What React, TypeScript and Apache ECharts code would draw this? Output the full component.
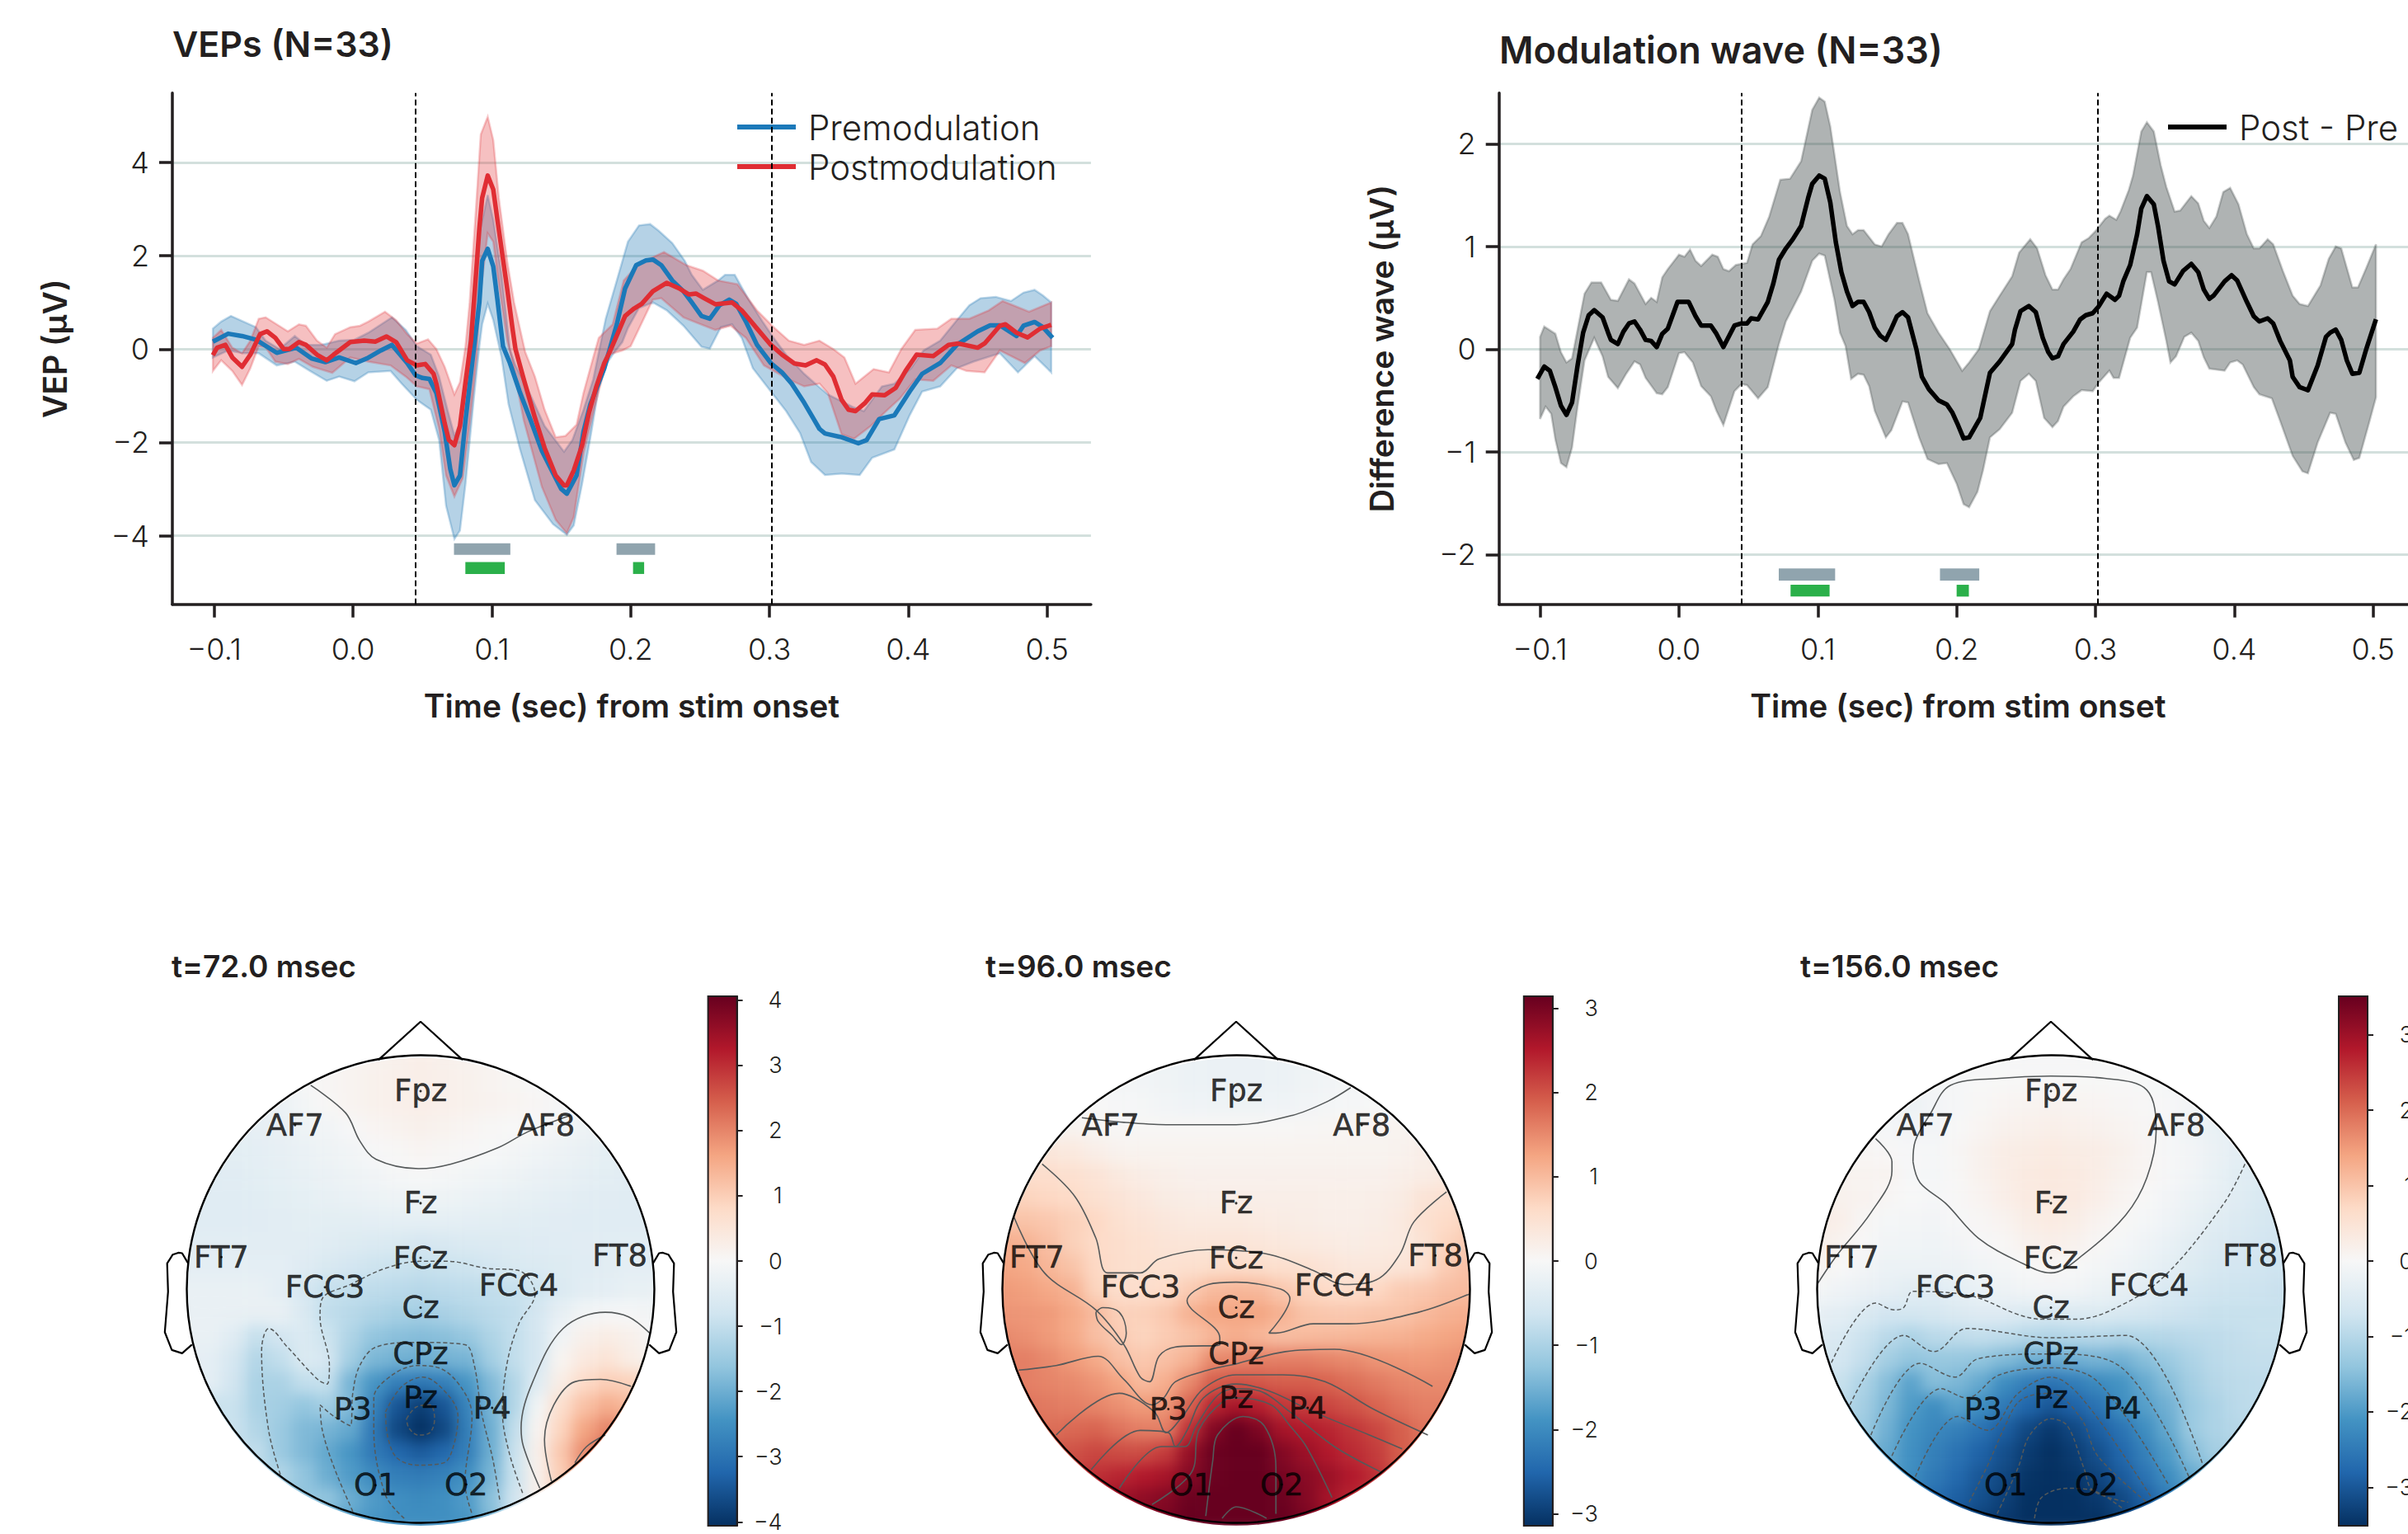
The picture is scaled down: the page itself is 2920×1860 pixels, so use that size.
import React, { useEffect, useRef } from "react";
import * as echarts from "echarts";

type P = [number, number];

const FONT = "Inter, 'Open Sans', sans-serif";
const INK = "#231f20";

// ---------- VEP panel ----------
const preMean: P[] = [[-.101,.16],[-.09,.33],[-.08,.28],[-.07,.2],[-.055,-.08],[-.05,-.04],[-.041,.03],[-.03,-.2],[-.02,-.28],[-.01,-.18],[.002,-.3],[.01,-.2],[.02,-.03],[.028,.09],[.039,-.3],[.045,-.56],[.05,-.62],[.055,-.64],[.06,-.94],[.066,-1.77],[.07,-2.57],[.073,-2.92],[.077,-2.71],[.081,-1.53],[.087,0],[.091,1],[.093,1.89],[.097,2.15],[.101,1.77],[.104,1.06],[.108,.06],[.113,-.3],[.12,-.91],[.128,-1.53],[.136,-2.18],[.144,-2.65],[.15,-3],[.154,-3.1],[.161,-2.71],[.166,-1.77],[.171,-1.18],[.181,-.41],[.19,.53],[.196,1.3],[.204,1.8],[.211,1.9],[.216,1.92],[.222,1.8],[.23,1.47],[.238,1.24],[.244,1],[.251,.71],[.257,.65],[.264,.94],[.271,1.06],[.276,.97],[.283,.59],[.291,.09],[.301,-.3],[.309,-.5],[.316,-.74],[.325,-1.15],[.336,-1.71],[.34,-1.81],[.352,-1.89],[.364,-2.02],[.37,-1.95],[.379,-1.5],[.39,-1.42],[.401,-.91],[.41,-.53],[.423,-.3],[.435,.09],[.45,.38],[.459,.51],[.466,.51],[.478,.28],[.483,.5],[.491,.58],[.497,.47],[.504,.24]];
const preUpper: P[] = [[-.101,.44],[-.095,.59],[-.088,.71],[-.079,.59],[-.07,.47],[-.063,.18],[-.053,0],[-.042,.28],[-.034,.09],[-.023,.09],[-.01,.18],[.001,.2],[.011,.35],[.028,.68],[.038,.41],[.046,.06],[.056,-.12],[.062,-.59],[.068,-1.3],[.073,-1.85],[.077,-1.6],[.081,-.9],[.083,0],[.087,1.3],[.091,2.48],[.097,3.3],[.101,2.77],[.107,1.59],[.113,0],[.117,-.35],[.128,-1],[.138,-1.65],[.152,-2.2],[.158,-1.95],[.166,-1.3],[.173,-.65],[.182,.65],[.19,1.47],[.198,2.3],[.206,2.65],[.214,2.68],[.22,2.54],[.23,2.27],[.239,1.89],[.244,1.59],[.252,1.27],[.263,1.47],[.268,1.59],[.275,1.59],[.285,1.06],[.295,.59],[.303,.24],[.312,-.12],[.325,-.53],[.333,-.74],[.342,-.97],[.36,-1.24],[.368,-1.33],[.381,-.8],[.39,-.74],[.402,-.41],[.411,-.03],[.423,.18],[.435,.62],[.444,.94],[.452,1.09],[.463,1.12],[.474,1.03],[.483,1.21],[.491,1.27],[.497,1.15],[.503,1]];
const preLower: P[] = [[-.101,-.18],[-.09,-.03],[-.079,-.09],[-.068,-.09],[-.055,-.35],[-.042,-.27],[-.031,-.47],[-.019,-.68],[-.01,-.59],[.001,-.69],[.011,-.5],[.027,-.47],[.035,-.74],[.046,-1.09],[.056,-1.3],[.062,-1.95],[.067,-3.36],[.073,-4.07],[.077,-3.89],[.081,-2.89],[.087,-1.06],[.091,.06],[.093,.53],[.097,.97],[.101,.62],[.107,-.18],[.112,-1.18],[.12,-2.12],[.131,-3.24],[.144,-3.75],[.154,-3.98],[.159,-3.78],[.165,-2.89],[.171,-1.89],[.177,-.83],[.183,-.3],[.187,-.12],[.194,.15],[.198,.45],[.206,.88],[.216,1],[.226,.83],[.238,.5],[.251,.05],[.257,.01],[.265,.47],[.273,.53],[.28,.24],[.288,-.41],[.301,-.91],[.312,-1.33],[.322,-1.8],[.33,-2.42],[.34,-2.7],[.352,-2.67],[.365,-2.7],[.374,-2.33],[.39,-2.15],[.401,-1.42],[.41,-.91],[.423,-.8],[.435,-.41],[.447,-.27],[.466,-.09],[.479,-.5],[.491,-.15],[.503,-.5]];
const postMean: P[] = [[-.101,-.13],[-.098,.03],[-.092,.09],[-.087,-.18],[-.08,-.38],[-.074,-.12],[-.067,.32],[-.062,.38],[-.056,.24],[-.05,0],[-.046,0],[-.039,.15],[-.034,.09],[-.026,-.12],[-.019,-.24],[-.014,-.12],[-.002,.15],[.008,.18],[.016,.16],[.024,.27],[.031,.15],[.039,-.24],[.046,-.35],[.052,-.32],[.058,-.53],[.06,-.74],[.066,-1.59],[.069,-1.95],[.073,-2.06],[.077,-1.65],[.081,-.71],[.085,.18],[.091,2.6],[.093,3.24],[.097,3.72],[.101,3.42],[.104,2.77],[.111,1.3],[.115,.41],[.117,0],[.123,-.65],[.131,-1.47],[.138,-2.12],[.146,-2.71],[.152,-2.92],[.154,-2.92],[.159,-2.6],[.165,-2.06],[.17,-1.36],[.175,-.83],[.181,-.3],[.184,-.12],[.19,.29],[.196,.71],[.202,.86],[.208,.97],[.216,1.24],[.226,1.42],[.235,1.3],[.242,1.17],[.247,1.19],[.253,1.09],[.261,.96],[.273,1],[.28,.83],[.291,.44],[.301,.09],[.309,-.12],[.318,-.31],[.326,-.35],[.334,-.24],[.34,-.33],[.346,-.59],[.352,-1.09],[.357,-1.3],[.362,-1.33],[.369,-1.15],[.374,-.97],[.383,-.99],[.391,-.83],[.398,-.47],[.406,-.12],[.418,-.15],[.429,.09],[.436,.12],[.45,.03],[.455,.12],[.466,.5],[.47,.53],[.478,.35],[.486,.25],[.495,.44],[.503,.52]];
const postUpper: P[] = [[-.101,.24],[-.095,.41],[-.087,.03],[-.08,-.09],[-.074,.18],[-.068,.65],[-.063,.68],[-.055,.53],[-.047,.38],[-.039,.53],[-.034,.5],[-.026,.18],[-.019,.03],[-.013,.32],[-.002,.47],[.005,.5],[.011,.59],[.023,.8],[.031,.62],[.039,.32],[.046,.12],[.054,.21],[.06,0],[.066,-.38],[.073,-.97],[.077,-.71],[.081,.06],[.084,1],[.088,2.77],[.092,4.6],[.097,4.98],[.101,4.48],[.105,3.24],[.111,1.89],[.116,1],[.124,-.06],[.131,-.59],[.138,-1.3],[.146,-1.89],[.153,-1.86],[.155,-1.8],[.161,-1.62],[.166,-.94],[.173,-.18],[.177,.24],[.187,.53],[.195,1.47],[.206,1.83],[.224,2.08],[.24,1.8],[.252,1.68],[.263,1.47],[.277,1.39],[.291,.83],[.303,.47],[.314,.18],[.325,.09],[.336,.18],[.346,0],[.354,-.18],[.362,-.74],[.375,-.43],[.386,-.5],[.395,0],[.405,.41],[.421,.44],[.431,.65],[.444,.65],[.458,.83],[.468,1.03],[.487,.8],[.503,1]];
const postLower: P[] = [[-.101,-.47],[-.095,-.24],[-.087,-.47],[-.08,-.77],[-.074,-.41],[-.068,.06],[-.063,.04],[-.056,-.27],[-.047,-.32],[-.039,-.21],[-.029,-.38],[-.015,-.51],[-.002,-.18],[.011,-.27],[.027,-.35],[.038,-.59],[.046,-.8],[.055,-.86],[.062,-1.71],[.067,-2.71],[.073,-3.16],[.079,-2.77],[.084,-1.59],[.089,-.18],[.091,1],[.097,2.48],[.101,2.3],[.104,1.59],[.111,.18],[.115,-.3],[.123,-1.53],[.136,-2.95],[.146,-3.66],[.154,-3.95],[.159,-3.6],[.166,-2.24],[.174,-1.24],[.184,-.12],[.194,-.03],[.2,.06],[.216,1.06],[.222,1.09],[.238,.68],[.248,.56],[.261,.41],[.272,.5],[.283,.24],[.296,-.35],[.314,-.65],[.325,-.8],[.336,-.74],[.342,-.94],[.352,-1.83],[.361,-1.92],[.373,-1.65],[.383,-1.36],[.394,-1.06],[.405,-.65],[.418,-.68],[.431,-.35],[.442,-.47],[.455,-.5],[.466,-.03],[.484,-.3],[.495,-.03],[.503,.06]];
const vepSig: number[][] = [[.0727,.1133,-4.41,-4.164,0],[.0809,.1093,-4.82,-4.565,1],[.1898,.2176,-4.41,-4.164,0],[.2017,.2097,-4.82,-4.565,1]];

// ---------- Modulation panel ----------
const diffMean: P[] = [[-.102,-.29],[-.097,-.17],[-.093,-.21],[-.089,-.37],[-.085,-.55],[-.081,-.64],[-.077,-.52],[-.073,-.16],[-.069,.16],[-.065,.33],[-.061,.38],[-.055,.31],[-.051,.16],[-.049,.09],[-.044,.05],[-.04,.17],[-.036,.25],[-.032,.27],[-.028,.19],[-.024,.09],[-.02,.08],[-.016,.02],[-.012,.15],[-.008,.2],[-.001,.46],[.007,.46],[.012,.32],[.016,.23],[.023,.23],[.027,.15],[.032,.02],[.04,.23],[.045,.25],[.049,.25],[.052,.3],[.057,.29],[.064,.46],[.068,.64],[.072,.87],[.077,.98],[.082,1.07],[.088,1.2],[.093,1.47],[.096,1.61],[.101,1.69],[.105,1.66],[.109,1.43],[.113,1.04],[.117,.75],[.121,.56],[.125,.42],[.129,.46],[.133,.46],[.137,.36],[.141,.21],[.145,.13],[.149,.09],[.153,.2],[.157,.32],[.161,.36],[.165,.31],[.171,0],[.175,-.27],[.18,-.39],[.187,-.5],[.193,-.54],[.197,-.62],[.201,-.74],[.205,-.87],[.209,-.86],[.217,-.67],[.22,-.48],[.224,-.23],[.231,-.12],[.24,.05],[.242,.19],[.246,.37],[.252,.42],[.257,.36],[.262,.11],[.266,-.03],[.269,-.09],[.273,-.07],[.277,.05],[.284,.17],[.289,.29],[.293,.33],[.298,.35],[.302,.41],[.308,.54],[.314,.48],[.317,.52],[.32,.66],[.325,.82],[.33,1.12],[.333,1.37],[.337,1.49],[.342,1.41],[.345,1.2],[.349,.86],[.353,.66],[.357,.63],[.363,.76],[.369,.83],[.374,.75],[.378,.58],[.382,.49],[.385,.52],[.393,.66],[.398,.72],[.402,.67],[.409,.46],[.414,.32],[.418,.27],[.424,.3],[.428,.25],[.433,.08],[.44,-.11],[.442,-.27],[.447,-.37],[.453,-.4],[.46,-.16],[.466,.12],[.469,.16],[.473,.19],[.477,.09],[.481,-.11],[.485,-.24],[.49,-.23],[.495,0],[.502,.29]];
const diffUpper: P[] = [[-.1,.12],[-.097,.22],[-.089,.15],[-.085,-.03],[-.081,-.13],[-.077,-.09],[-.068,.54],[-.063,.65],[-.056,.65],[-.049,.48],[-.044,.47],[-.036,.68],[-.032,.64],[-.024,.44],[-.02,.5],[-.016,.46],[-.012,.7],[-.008,.78],[0,.92],[.004,.9],[.008,.97],[.012,.86],[.016,.81],[.024,.92],[.028,.9],[.032,.78],[.036,.76],[.041,.82],[.049,.84],[.053,1.02],[.059,1.1],[.065,1.29],[.073,1.65],[.08,1.66],[.088,1.83],[.096,2.33],[.101,2.45],[.105,2.41],[.109,2.17],[.116,1.53],[.121,1.2],[.125,1.12],[.129,1.16],[.133,1.16],[.141,1.02],[.146,1],[.151,1.12],[.157,1.23],[.161,1.23],[.165,1.12],[.173,.67],[.179,.35],[.187,.16],[.195,0],[.204,-.21],[.209,-.13],[.216,0],[.224,.37],[.231,.52],[.24,.71],[.245,.94],[.253,1.07],[.258,.98],[.264,.72],[.269,.58],[.273,.58],[.277,.68],[.282,.78],[.29,1.04],[.295,1.08],[.3,1.15],[.307,1.27],[.31,1.3],[.315,1.26],[.318,1.34],[.324,1.55],[.327,1.69],[.333,2.12],[.337,2.21],[.342,2.12],[.347,1.79],[.351,1.58],[.357,1.34],[.361,1.35],[.369,1.49],[.374,1.42],[.378,1.25],[.382,1.18],[.387,1.29],[.392,1.53],[.397,1.57],[.403,1.41],[.409,1.12],[.414,.98],[.418,.98],[.424,1.07],[.428,1.02],[.435,.76],[.442,.52],[.447,.44],[.453,.42],[.462,.62],[.468,.88],[.473,1],[.477,.98],[.485,.6],[.489,.6],[.495,.79],[.502,1.02]];
const diffLower: P[] = [[-.1,-.68],[-.096,-.56],[-.092,-.63],[-.089,-.88],[-.085,-1.11],[-.081,-1.15],[-.077,-.96],[-.073,-.56],[-.068,-.11],[-.061,.11],[-.055,-.07],[-.051,-.27],[-.044,-.38],[-.038,-.24],[-.032,-.12],[-.028,-.15],[-.024,-.28],[-.016,-.43],[-.012,-.44],[-.008,-.37],[0,-.04],[.004,-.03],[.01,-.13],[.016,-.36],[.023,-.46],[.027,-.6],[.032,-.74],[.04,-.41],[.045,-.34],[.049,-.35],[.057,-.48],[.064,-.37],[.072,.05],[.077,.27],[.088,.56],[.096,.86],[.101,.93],[.105,.91],[.112,.48],[.116,.16],[.12,.03],[.124,-.29],[.129,-.24],[.133,-.25],[.137,-.36],[.141,-.6],[.149,-.86],[.153,-.79],[.161,-.51],[.165,-.52],[.173,-.86],[.179,-1.07],[.187,-1.12],[.193,-1.11],[.2,-1.31],[.205,-1.51],[.209,-1.54],[.215,-1.39],[.219,-1.18],[.224,-.86],[.231,-.78],[.24,-.62],[.246,-.31],[.252,-.24],[.257,-.31],[.263,-.67],[.269,-.76],[.273,-.7],[.277,-.56],[.284,-.46],[.29,-.4],[.298,-.41],[.302,-.33],[.31,-.21],[.313,-.28],[.317,-.28],[.325,.11],[.33,.21],[.337,.75],[.34,.75],[.345,.46],[.351,.08],[.354,-.13],[.358,-.07],[.364,.12],[.369,.16],[.374,.08],[.378,-.08],[.382,-.19],[.393,-.21],[.397,-.13],[.402,-.11],[.406,-.15],[.414,-.37],[.418,-.44],[.427,-.48],[.433,-.7],[.442,-1.04],[.449,-1.19],[.453,-1.21],[.46,-.91],[.469,-.62],[.473,-.63],[.48,-.91],[.486,-1.08],[.49,-1.06],[.497,-.72],[.502,-.47]];
const diffSig: number[][] = [[.0719,.1125,-2.255,-2.137,0],[.0804,.1085,-2.41,-2.295,1],[.188,.2163,-2.255,-2.137,0],[.2,.2088,-2.41,-2.295,1]];

const eventTimes = [0.045, 0.3016];
const timeTicks = [-0.1, 0, 0.1, 0.2, 0.3, 0.4, 0.5];
const vepTicks = [-4, -2, 0, 2, 4];
const diffTicks = [-2, -1, 0, 1, 2];

// ---------- Topomaps: field read on a grid, x -1..1 (step .1) and y 1..-1 (step .1) ----------
const map72: number[][] = [
[-.1,-.1,-.1,-.1,-.1,0,.05,.1,.15,.2,.25,.2,.15,.1,.05,0,-.1,-.1,-.1,-.1,-.1],
[-.2,-.2,-.2,-.2,-.2,-.05,.05,.12,.18,.22,.25,.22,.18,.12,.06,0,-.1,-.2,-.2,-.2,-.2],
[-.3,-.3,-.3,-.3,-.25,-.1,.03,.12,.18,.22,.25,.22,.18,.14,.1,.05,-.05,-.15,-.3,-.3,-.3],
[-.4,-.4,-.4,-.35,-.3,-.2,-.12,-.03,.08,.15,.2,.15,.08,.03,0,-.03,-.1,-.2,-.3,-.4,-.4],
[-.45,-.45,-.42,-.4,-.35,-.28,-.2,-.12,-.03,.04,.08,.05,.02,-.02,-.08,-.15,-.22,-.3,-.38,-.42,-.45],
[-.5,-.5,-.48,-.42,-.38,-.32,-.25,-.2,-.12,-.05,-.02,-.05,-.1,-.15,-.2,-.25,-.3,-.36,-.42,-.48,-.5],
[-.5,-.5,-.5,-.46,-.42,-.38,-.32,-.28,-.24,-.2,-.18,-.2,-.24,-.28,-.32,-.36,-.4,-.44,-.48,-.5,-.5],
[-.5,-.5,-.5,-.48,-.45,-.42,-.42,-.42,-.4,-.38,-.38,-.38,-.4,-.42,-.44,-.46,-.48,-.5,-.5,-.5,-.5],
[-.45,-.45,-.45,-.45,-.45,-.45,-.5,-.55,-.6,-.65,-.7,-.66,-.6,-.58,-.55,-.52,-.5,-.48,-.46,-.45,-.45],
[-.4,-.4,-.4,-.4,-.4,-.52,-.65,-.75,-.85,-.9,-.95,-.9,-.85,-.75,-.65,-.6,-.55,-.5,-.45,-.4,-.4],
[-.3,-.3,-.3,-.3,-.4,-.7,-.95,-1,-1.05,-1.1,-1.15,-1.1,-1.05,-1,-.95,-.85,-.6,-.45,-.4,-.32,-.3],
[-.3,-.3,-.3,-.3,-.3,-.6,-1,-1.12,-1.25,-1.35,-1.4,-1.32,-1.2,-1.1,-1,-.7,-.35,-.1,-.05,-.05,-.1],
[-.25,-.3,-.5,-.95,-.75,-.6,-.85,-1.25,-1.6,-1.7,-1.75,-1.7,-1.55,-1.25,-1,-.7,-.15,.2,.3,.2,-.05],
[-.3,-.4,-.7,-1.2,-1,-.6,-.7,-1.4,-1.85,-1.95,-2,-1.95,-1.9,-1.4,-1,-.7,.1,.4,.55,.3,.1],
[-.4,-.4,-.8,-1.3,-1.3,-1,-.95,-1.9,-2.4,-2.8,-2.95,-2.8,-2.4,-1.8,-1.2,-.5,.3,.8,1,.95,.8],
[-.9,-.9,-.9,-1.3,-1.4,-1.6,-1.4,-1.8,-2.7,-3.5,-3.85,-3.5,-2.7,-1.9,-1.2,-.1,.7,1.2,1.5,1.3,1.2],
[-.9,-.9,-.9,-1.2,-1.5,-1.8,-1.9,-2.1,-2.9,-3.7,-4.05,-3.7,-2.8,-2,-1,.1,.9,1.6,2,1.8,1.8],
[-1,-1,-1,-1,-1.5,-1.8,-2.1,-2.4,-2.9,-3.2,-3.4,-3.2,-2.8,-2,-.9,.2,1.1,1.9,2.4,2.4,2.4],
[-1.2,-1.2,-1.2,-1.2,-1.2,-1.6,-2,-2.3,-2.6,-2.8,-2.85,-2.75,-2.5,-1.9,-.9,.2,1,1.8,2.4,2.4,2.4],
[-1.6,-1.6,-1.6,-1.6,-1.6,-1.6,-1.6,-2,-2.3,-2.5,-2.6,-2.5,-2.3,-1.7,-.8,.2,.9,1.6,2,2,2],
[-2,-2,-2,-2,-2,-2,-2,-2.2,-2.4,-2.5,-2.5,-2.5,-2.4,-1.8,-.8,.2,.8,1.5,2,2,2],
];
const map96: number[][] = [
[-.1,-.1,-.1,-.1,-.1,-.12,-.14,-.16,-.18,-.2,-.2,-.2,-.18,-.16,-.14,-.12,-.1,-.1,-.1,-.1,-.1],
[-.05,-.05,-.05,-.05,-.05,-.08,-.1,-.14,-.18,-.2,-.2,-.2,-.18,-.14,-.1,-.08,-.05,-.05,-.05,-.05,-.05],
[0,0,0,0,0,-.02,-.05,-.1,-.13,-.15,-.15,-.15,-.13,-.1,-.07,-.03,0,.02,.02,.02,.02],
[.1,.1,.1,.1,.05,.02,.02,.02,.02,.02,.02,.03,.03,.04,.05,.06,.08,.1,.1,.1,.1],
[.35,.35,.35,.3,.2,.12,.1,.1,.1,.1,.1,.1,.1,.1,.1,.1,.1,.12,.2,.25,.25],
[.55,.55,.55,.5,.42,.3,.22,.18,.15,.15,.15,.15,.15,.15,.15,.15,.15,.18,.22,.3,.35],
[.7,.7,.65,.6,.5,.42,.33,.25,.22,.2,.2,.2,.2,.2,.18,.18,.2,.25,.42,.5,.55],
[.9,.9,.85,.75,.65,.5,.42,.35,.3,.3,.3,.27,.25,.22,.2,.2,.22,.3,.5,.6,.7],
[1.15,1.1,.95,.75,.62,.55,.48,.42,.4,.4,.4,.38,.34,.3,.27,.25,.27,.3,.45,.7,.85],
[1.25,1.2,1.05,.9,.65,.55,.52,.5,.52,.56,.6,.56,.52,.5,.42,.35,.35,.4,.5,.8,.95],
[1.35,1.3,1.2,1.1,.7,.55,.55,.6,.8,1,1.05,1.02,.85,.7,.6,.58,.65,.8,.85,.95,1],
[1.4,1.38,1.35,1.2,1,.75,.75,.85,1.1,1.25,1.25,1.25,1.1,.9,.85,.85,.88,.9,1,1.1,1.15],
[1.5,1.45,1.35,1.2,.95,.82,.7,.8,.9,1.05,1.15,1.05,.95,1,1.02,1.05,1.08,1.1,1.18,1.25,1.3],
[1.6,1.6,1.5,1.35,1.2,.95,.85,.95,1.1,1.5,1.55,1.6,1.6,1.6,1.55,1.5,1.4,1.37,1.35,1.4,1.45],
[1.6,1.6,1.55,1.5,1.4,1.25,1,1.15,1.5,1.9,2,1.95,1.9,1.9,1.85,1.75,1.65,1.55,1.5,1.5,1.5],
[1.7,1.7,1.65,1.6,1.55,1.45,1.35,1.4,1.85,2.4,2.6,2.45,2.25,2.2,2.1,2,1.85,1.7,1.6,1.6,1.6],
[1.8,1.8,1.75,1.8,1.85,1.7,1.6,1.6,2.3,2.9,3.2,2.95,2.6,2.5,2.4,2.25,2.1,1.9,1.7,1.7,1.7],
[2,2,2,2,2.1,2.05,2.05,2.2,2.75,3.1,3.3,3.15,2.9,2.7,2.5,2.35,2.2,1.9,1.8,1.8,1.8],
[2.2,2.2,2.2,2.2,2.3,2.4,2.5,2.6,2.9,3.1,3.4,3.2,3,2.85,2.7,2.5,2.3,2,2,2,2],
[2.5,2.5,2.5,2.5,2.6,2.7,2.8,2.9,3.1,3.3,3.4,3.3,3.1,2.9,2.6,2.4,2.2,2,2,2,2],
[2.8,2.8,2.8,2.8,2.8,2.8,2.9,3,3.2,3.4,3.5,3.4,3.2,3,2.8,2.6,2.4,2.2,2.2,2.2,2.2],
];
const map156: number[][] = [
[-.15,-.15,-.15,-.15,-.12,-.1,-.08,-.06,-.04,-.02,-.02,-.02,-.04,-.06,-.08,-.1,-.12,-.15,-.15,-.15,-.15],
[-.1,-.1,-.1,-.1,-.1,-.08,-.03,0,.01,.02,.02,.02,.01,0,-.01,-.05,-.12,-.2,-.2,-.2,-.2],
[-.1,-.1,-.1,-.15,-.2,-.1,-.03,.03,.07,.1,.12,.1,.07,.05,.02,-.02,-.1,-.18,-.25,-.3,-.3],
[0,0,0,-.05,-.12,-.1,0,.08,.15,.18,.2,.18,.15,.1,.05,-.03,-.15,-.25,-.35,-.4,-.4],
[.05,.05,.05,.02,-.02,-.04,.04,.15,.25,.28,.3,.28,.25,.17,.08,-.03,-.1,-.22,-.35,-.45,-.45],
[.12,.12,.1,.1,-.03,-.05,.03,.15,.25,.32,.35,.32,.25,.15,.07,-.02,-.12,-.25,-.4,-.5,-.55],
[.2,.15,.12,.05,0,-.03,.02,.1,.22,.32,.35,.32,.22,.1,0,-.1,-.2,-.3,-.42,-.55,-.6],
[.25,.2,.05,-.05,-.07,-.1,-.02,.05,.12,.25,.3,.25,.12,.03,-.05,-.15,-.28,-.4,-.5,-.6,-.65],
[.2,.1,0,-.12,-.13,-.15,-.1,-.02,.03,.15,.2,.15,.03,-.05,-.15,-.25,-.38,-.5,-.58,-.65,-.7],
[.1,0,-.1,-.2,-.2,-.2,-.18,-.12,-.08,0,.05,0,-.08,-.15,-.25,-.35,-.48,-.6,-.65,-.7,-.72],
[-.05,-.15,-.22,-.3,-.38,-.45,-.35,-.25,-.18,-.12,-.1,-.12,-.2,-.3,-.42,-.55,-.62,-.7,-.73,-.75,-.78],
[-.3,-.35,-.5,-.65,-.62,-.6,-.5,-.45,-.45,-.5,-.55,-.5,-.48,-.55,-.62,-.7,-.75,-.8,-.8,-.8,-.8],
[-.45,-.55,-.75,-.95,-1.1,-.95,-.9,-.85,-.9,-1,-1.05,-1,-.98,-1.05,-1.02,-1,-.95,-.9,-.85,-.8,-.8],
[-.6,-.65,-.85,-1.2,-1.4,-1.35,-1.35,-1.4,-1.55,-1.7,-1.75,-1.72,-1.65,-1.7,-1.5,-1.3,-1.1,-.95,-.88,-.85,-.85],
[-.75,-.8,-1.1,-1.5,-1.9,-1.5,-1.6,-1.8,-2.2,-2.45,-2.6,-2.45,-2.25,-2.1,-1.8,-1.5,-1.2,-1,-.92,-.9,-.9],
[-.9,-.95,-1.2,-1.6,-2,-2.2,-1.9,-2.2,-2.5,-2.8,-3,-2.85,-2.6,-2.2,-1.95,-1.7,-1.3,-1.1,-.95,-.9,-.9],
[-1.1,-1.1,-1.3,-1.7,-2.1,-2.3,-2.4,-2.6,-2.9,-3.2,-3.4,-3.2,-2.9,-2.6,-2.2,-1.8,-1.3,-1.1,-1,-1,-1],
[-1.4,-1.4,-1.5,-1.8,-2.15,-2.4,-2.6,-2.85,-3.1,-3.35,-3.5,-3.35,-3.1,-2.8,-2.4,-2,-1.5,-1.2,-1.1,-1.1,-1.1],
[-1.8,-1.8,-1.8,-1.9,-2.2,-2.5,-2.75,-3,-3.2,-3.45,-3.55,-3.45,-3.25,-2.95,-2.6,-2.2,-1.8,-1.5,-1.3,-1.3,-1.3],
[-2.3,-2.3,-2.3,-2.3,-2.4,-2.7,-2.9,-3.1,-3.3,-3.5,-3.6,-3.5,-3.4,-3.2,-2.9,-2.5,-2.1,-1.8,-1.6,-1.6,-1.6],
[-2.6,-2.6,-2.6,-2.6,-2.7,-2.9,-3.1,-3.3,-3.4,-3.6,-3.7,-3.6,-3.5,-3.3,-3,-2.7,-2.3,-2,-1.8,-1.8,-1.8],
];

// Contours traced in head coordinates
const solid72: P[][] = [
[[-.47,.88],[-.32,.76],[-.26,.64],[-.19,.56],[-.01,.52],[.13,.54],[.33,.61],[.46,.68],[.64,.75]],
[[.51,-.86],[.44,-.68],[.43,-.6],[.48,-.4],[.61,-.17],[.79,-.1],[.89,-.12],[.98,-.19]],
[[.56,-.83],[.53,-.65],[.57,-.5],[.66,-.4],[.77,-.39],[.9,-.42]],
[[.66,-.75],[.71,-.68],[.79,-.63]],
];
const dashed72: P[][] = [
[[-.6,-.8],[-.65,-.61],[-.68,-.27],[-.67,-.2],[-.65,-.17],[-.57,-.25],[-.44,-.39],[-.4,-.41],[-.39,-.33],[-.43,-.12],[-.42,-.04],[-.3,.02],[-.15,.09],[0,.12],[.12,.12],[.28,.09],[.42,.08],[.49,-.02],[.42,-.15],[.37,-.32],[.35,-.53],[.38,-.71],[.44,-.89]],
[[-.29,-.96],[-.37,-.77],[-.42,-.61],[-.43,-.5],[-.37,-.55],[-.3,-.59],[-.29,-.45],[-.26,-.33],[-.19,-.25],[-.01,-.23],[.19,-.24],[.23,-.33],[.26,-.53],[.31,-.74],[.34,-.92]],
[[-.07,-.99],[-.15,-.89],[-.2,-.61],[-.2,-.47],[-.12,-.37],[-.01,-.33],[.1,-.35],[.19,-.45],[.22,-.55],[.19,-.84],[.22,-.97]],
[[-.15,-.53],[-.08,-.42],[.01,-.38],[.12,-.46],[.16,-.55],[.14,-.68],[.1,-.75],[-.01,-.76],[-.1,-.73],[-.14,-.64],[-.15,-.53]],
[[-.06,-.56],[-.02,-.51],[.04,-.5],[.06,-.56],[.04,-.62],[-.01,-.63],[-.05,-.6],[-.06,-.56]],
];
const solid96: P[][] = [
[[-.66,.74],[-.48,.72],[-.3,.71],[0,.71],[.24,.75],[.39,.81],[.49,.87]],
[[-.83,.54],[-.69,.4],[-.6,.22],[-.55,.07],[-.41,.07],[-.33,.13],[-.12,.17],[.14,.15],[.33,.08],[.46,.02],[.6,.04],[.7,.15],[.76,.29],[.9,.42]],
[[-.95,.31],[-.82,.07],[-.6,-.09],[-.48,-.24],[-.41,-.38],[-.37,-.4],[-.33,-.29],[-.26,-.25],[-.07,-.24],[-.07,-.21],[-.21,-.05],[-.12,.02],[0,.03],[.19,0],[.23,-.04],[.14,-.19],[.17,-.19],[.33,-.15],[.48,-.15],[.78,-.1],[1,-.02]],
[[-.6,-.1],[-.57,-.08],[-.5,-.1],[-.47,-.19],[-.49,-.24],[-.53,-.2],[-.59,-.14],[-.6,-.1]],
[[-.93,-.35],[-.77,-.33],[-.59,-.29],[-.48,-.39],[-.36,-.5],[-.31,-.47],[-.26,-.4],[-.12,-.35],[.01,-.32],[.21,-.27],[.42,-.26],[.84,-.42]],
[[-.77,-.63],[-.5,-.45],[-.35,-.53],[-.3,-.62],[-.23,-.55],[-.14,-.43],[0,-.37],[.2,-.37],[.38,-.4],[.59,-.52],[.82,-.63]],
[[-.62,-.78],[-.41,-.61],[-.29,-.62],[-.26,-.68],[-.21,-.61],[-.14,-.47],[0,-.41],[.14,-.44],[.33,-.53],[.57,-.63],[.71,-.69]],
[[-.5,-.86],[-.32,-.68],[-.22,-.68],[-.17,-.59],[-.08,-.46],[0,-.43],[.1,-.44],[.23,-.53],[.42,-.68],[.62,-.79]],
[[-.36,-.93],[-.19,-.79],[-.16,-.61],[-.05,-.48],[0,-.47],[.15,-.5],[.23,-.59],[.3,-.68],[.41,-.9]],
[[-.13,-.98],[-.1,-.74],[-.08,-.63],[.03,-.55],[.12,-.59],[.17,-.77],[.17,-.97]],
[[-.06,-.99],[0,-.94],[.13,-.99]],
];
const solid156: P[][] = [
[[-.59,.55],[-.58,.64],[-.52,.75],[-.43,.88],[-.22,.91],[0,.92],[.23,.91],[.41,.86],[.45,.68],[.41,.48],[.32,.32],[.14,.15],[0,.07],[-.14,.12],[-.31,.22],[-.45,.37],[-.56,.46],[-.59,.55]],
[[-.75,.65],[-.68,.55],[-.68,.51],[-.77,.33],[-.92,.14],[-1,.02]],
];
const dashed156: P[][] = [
[[.83,.54],[.74,.37],[.5,.07],[.32,-.06],[.11,-.13],[-.04,-.13],[-.14,-.11],[-.34,-.03],[-.59,-.01],[-.63,-.08],[-.67,-.09],[-.75,-.06],[-.94,-.32]],
[[-.86,-.5],[-.63,-.2],[-.5,-.27],[-.36,-.17],[0,-.21],[.32,-.2],[.65,-.76]],
[[-.77,-.63],[-.56,-.32],[-.41,-.38],[-.31,-.3],[0,-.28],[.29,-.33],[.59,-.81]],
[[-.68,-.72],[-.47,-.43],[-.36,-.47],[-.22,-.37],[0,-.34],[.2,-.4],[.5,-.84]],
[[-.58,-.81],[-.4,-.55],[-.27,-.61],[-.14,-.45],[0,-.38],[.14,-.48],[.43,-.9]],
[[-.35,-.92],[-.27,-.76],[-.2,-.6],[-.13,-.48],[0,-.45],[.13,-.56],[.2,-.72],[.41,-.92]],
[[-.23,-.97],[-.14,-.77],[-.09,-.63],[0,-.56],[.07,-.59],[.14,-.77],[.18,-.87],[.33,-.92]],
[[-.07,-.99],[-.04,-.9],[.07,-.86],[.18,-.87],[.31,-.95]],
];

const electrodes: [string, number, number][] = [
  ["Fpz",0,.855],["AF7",-.537,.708],["AF8",.537,.708],["Fz",0,.371],["FT7",-.852,.138],["FT8",.852,.145],
  ["FCz",0,.135],["FCC3",-.409,.008],["FCC4",.42,.015],["Cz",0,-.08],["CPz",0,-.28],["P3",-.29,-.518],
  ["Pz",0,-.469],["P4",.306,-.513],["O1",-.193,-.847],["O2",.195,-.844],
];
const noseLine: P[] = [[-.18,.99],[0,1.155],[.18,.99]];
const earX = [.994,1.02,1.036,1.06,1.084,1.08,1.094,1.064,1.02,.978];
const earY = [.111,.155,.157,.149,.111,-.011,-.186,-.263,-.277,-.24];
const rdBu = ["#053061","#2166ac","#4393c3","#92c5de","#d1e5f0","#f7f7f7","#fddbc7","#f4a582","#d6604d","#b2182b","#67001f"];

const HEAD_R = 283.5;
const HEAD_CY = 1566.3;
const EXT = 1.05;
const OVER = 1.2;
const maps = [
  { title: "t=72.0 msec", titleX: 208, cx: 510, grid: map72, solid: solid72, dashed: dashed72, vmax: 4.06, ticks: [-4,-3,-2,-1,0,1,2,3,4], barX: 858.6 },
  { title: "t=96.0 msec", titleX: 1195, cx: 1499, grid: map96, solid: solid96, dashed: [] as P[][], vmax: 3.14, ticks: [-3,-2,-1,0,1,2,3], barX: 1847.8 },
  { title: "t=156.0 msec", titleX: 2183, cx: 2487, grid: map156, solid: solid156, dashed: dashed156, vmax: 3.51, ticks: [-3,-2,-1,0,1,2,3], barX: 2836 },
];
const BAR_W = 35;
const BAR_TOP = 1208;
const BAR_H = 642;

const fmtSigned = (v: number) => (v < 0 ? "\u2212" + Math.abs(v) : String(v));
const fmtTime = (v: number) => {
  const s = Math.abs(v).toFixed(1);
  return v < -1e-9 ? "\u2212" + s : s;
};

function bandSeries(upper: P[], lower: P[], xAxisIndex: number, yAxisIndex: number, fill: string, stroke: string) {
  return {
    type: "custom", xAxisIndex, yAxisIndex, silent: true, clip: false, z: 3, data: [[0, 0]],
    renderItem: (_p: any, api: any) => ({
      type: "polygon",
      shape: { points: [...upper, ...[...lower].reverse()].map((q) => api.coord(q)) },
      style: { fill, stroke, lineWidth: 2.5 },
    }),
  };
}
function sigSeries(rows: number[][], xAxisIndex: number, yAxisIndex: number) {
  return {
    type: "custom", xAxisIndex, yAxisIndex, silent: true, z: 3, data: rows,
    encode: { x: [0, 1], y: [2, 3] },
    renderItem: (_p: any, api: any) => {
      const a = api.coord([api.value(0), api.value(3)]);
      const b = api.coord([api.value(1), api.value(2)]);
      return { type: "rect", shape: { x: a[0], y: a[1], width: b[0] - a[0], height: b[1] - a[1] },
        style: { fill: api.value(4) === 0 ? "#90a4ae" : "#2bb04a" } };
    },
  };
}
function meanSeries(name: string, data: P[], color: string, xAxisIndex: number, yAxisIndex: number, mark: boolean) {
  return {
    type: "line", name, data, xAxisIndex, yAxisIndex, showSymbol: false, symbol: "none", silent: true, z: 5, clip: false,
    itemStyle: { color }, lineStyle: { color, width: 5.5, join: "round" },
    ...(mark ? { markLine: { silent: true, symbol: "none", animation: false, precision: 4, label: { show: false }, z: 6,
      lineStyle: { color: "#000", width: 2, type: [7, 4] }, data: eventTimes.map((t) => ({ xAxis: t })) } } : {}),
  };
}
function timeAxes(gridIndex: number, xMin: number, xMax: number) {
  return {
    type: "value", gridIndex, min: xMin, max: xMax, position: "bottom",
    name: "Time (sec) from stim onset", nameLocation: "middle", nameGap: 103,
    nameTextStyle: { fontFamily: FONT, fontSize: 39, fontWeight: 600, color: INK },
    axisLine: { show: true, onZero: false, lineStyle: { color: INK, width: 3.5 } },
    axisTick: { show: true, length: 16, customValues: timeTicks, lineStyle: { color: INK, width: 3.5 } },
    axisLabel: { show: true, customValues: timeTicks, margin: 36, formatter: fmtTime, fontFamily: FONT, fontSize: 36, fontWeight: 300, color: INK },
    splitLine: { show: false },
  };
}
function valueAxes(gridIndex: number, yMin: number, yMax: number, ticks: number[], name: string) {
  return {
    type: "value", gridIndex, min: yMin, max: yMax, position: "left",
    name, nameLocation: "middle", nameGap: 123, nameRotate: 90,
    nameTextStyle: { fontFamily: FONT, fontSize: 39, fontWeight: 600, color: INK },
    axisLine: { show: true, onZero: false, lineStyle: { color: INK, width: 3.5 } },
    axisTick: { show: true, length: 16, customValues: ticks, lineStyle: { color: INK, width: 3.5 } },
    axisLabel: { show: true, customValues: ticks, margin: 28, formatter: fmtSigned, fontFamily: FONT, fontSize: 36, fontWeight: 300, color: INK },
    splitLine: { show: true, lineStyle: { color: "#d3e0dd", width: 3 } },
  };
}

function buildHeatOption() {
  const cats = Array.from({ length: 21 }, (_, i) => String(i));
  const hidden = { show: false, axisLine: { show: false }, axisTick: { show: false }, axisLabel: { show: false }, splitLine: { show: false } };
  return {
    animation: false,
    backgroundColor: "transparent",
    grid: maps.map((m) => ({ left: m.cx - EXT * HEAD_R, top: HEAD_CY - EXT * HEAD_R, width: 2 * EXT * HEAD_R, height: 2 * EXT * HEAD_R, containLabel: false })),
    xAxis: maps.map((_, i) => ({ type: "category", gridIndex: i, data: cats, ...hidden })),
    yAxis: maps.map((_, i) => ({ type: "category", gridIndex: i, data: cats, ...hidden })),
    visualMap: maps.map((m, i) => ({ type: "continuous", show: false, seriesIndex: i, dimension: 2, min: -m.vmax, max: m.vmax, inRange: { color: rdBu } })),
    series: maps.map((m, i) => ({
      type: "heatmap", xAxisIndex: i, yAxisIndex: i, silent: true, progressive: 0,
      itemStyle: { borderWidth: 0 },
      data: m.grid.flatMap((row, r) => row.map((v, c) => [c, 20 - r, v])),
    })),
  };
}

function buildOption() {
  const grids: any[] = [
    { left: 209, top: 112.7, width: 1113.9, height: 620 },
    { left: 1817.7, top: 112.7, width: 1113.3, height: 620 },
  ];
  const xAxes: any[] = [timeAxes(0, -0.1302, 0.5316), timeAxes(1, -0.1296, 0.5316)];
  const yAxes: any[] = [
    valueAxes(0, -5.47, 5.49, vepTicks, "VEP (\u00b5V)"),
    valueAxes(1, -2.485, 2.495, diffTicks, "Difference wave (\u00b5V)"),
  ];
  const series: any[] = [
    bandSeries(preUpper, preLower, 0, 0, "rgba(31,119,180,0.33)", "rgba(31,119,180,0.28)"),
    bandSeries(postUpper, postLower, 0, 0, "rgba(224,45,50,0.30)", "rgba(224,45,50,0.25)"),
    sigSeries(vepSig, 0, 0),
    meanSeries("Premodulation", preMean, "#1b79b9", 0, 0, true),
    meanSeries("Postmodulation", postMean, "#e02d33", 0, 0, false),
    bandSeries(diffUpper, diffLower, 1, 1, "rgba(60,70,70,0.41)", "rgba(60,70,70,0.28)"),
    sigSeries(diffSig, 1, 1),
    meanSeries("Post - Pre", diffMean, "#000000", 1, 1, true),
  ];
  const hiddenAxis = { show: false, axisLine: { show: false }, axisTick: { show: false }, axisLabel: { show: false }, splitLine: { show: false } };

  maps.forEach((m) => {
    const gi = grids.length;
    grids.push({ left: m.cx - OVER * HEAD_R, top: HEAD_CY - OVER * HEAD_R, width: 2 * OVER * HEAD_R, height: 2 * OVER * HEAD_R });
    xAxes.push({ type: "value", gridIndex: gi, min: -OVER, max: OVER, ...hiddenAxis });
    yAxes.push({ type: "value", gridIndex: gi, min: -OVER, max: OVER, ...hiddenAxis });
    const contour = (pts: P[], dashed: boolean) => ({
      type: "line", data: pts, xAxisIndex: gi, yAxisIndex: gi, symbol: "none", silent: true, clip: false, z: 4, smooth: 0.35,
      lineStyle: { color: "#55595a", width: dashed ? 1.5 : 1.6, type: dashed ? [5, 3] : "solid" },
    });
    m.solid.forEach((c) => series.push(contour(c, false)));
    m.dashed.forEach((c) => series.push(contour(c, true)));
    const outline = (pts: P[]) => ({
      type: "line", data: pts, xAxisIndex: gi, yAxisIndex: gi, symbol: "none", silent: true, clip: false, z: 5,
      lineStyle: { color: "#000", width: 2.2 },
    });
    series.push(outline(noseLine));
    series.push(outline(earX.map((x, i) => [-x, earY[i]] as P)));
    series.push(outline(earX.map((x, i) => [x, earY[i]] as P)));
    series.push({
      type: "custom", xAxisIndex: gi, yAxisIndex: gi, silent: true, clip: false, z: 5, data: [[0, 0]],
      renderItem: (_p: any, api: any) => {
        const c = api.coord([0, 0]);
        const s = api.size([1, 1]);
        return { type: "circle", shape: { cx: c[0], cy: c[1], r: s[0] }, style: { fill: "none", stroke: "#000", lineWidth: 2.4 } };
      },
    });
    series.push({
      type: "scatter", xAxisIndex: gi, yAxisIndex: gi, silent: true, clip: false, z: 6, symbolSize: 3,
      itemStyle: { color: "#000" },
      label: { show: true, position: "inside", formatter: "{b}", fontFamily: "'DejaVu Sans'", fontSize: 37, color: "#000", textBorderWidth: 0.5, textBorderColor: "#000" },
      data: electrodes.map(([name, x, y]) => ({ name, value: [x, y] })),
    });
  });

  maps.forEach((m) => {
    const gi = grids.length;
    grids.push({ left: m.barX, top: BAR_TOP, width: BAR_W, height: BAR_H });
    xAxes.push({ type: "value", gridIndex: gi, min: 0, max: 1, ...hiddenAxis });
    yAxes.push({
      type: "value", gridIndex: gi, min: -m.vmax, max: m.vmax, position: "right",
      axisLine: { show: true, onZero: false, lineStyle: { color: INK, width: 2 } },
      axisTick: { show: true, length: 7, customValues: m.ticks, lineStyle: { color: INK, width: 2 } },
      axisLabel: { show: true, customValues: m.ticks, margin: 55, align: "right", lineHeight: 22, formatter: fmtSigned, fontFamily: FONT, fontSize: 27, fontWeight: 300, color: INK },
      splitLine: { show: false },
    });
    series.push({
      type: "custom", xAxisIndex: gi, yAxisIndex: gi, silent: true, clip: false, z: 3,
      data: [[0, 1, -m.vmax, m.vmax]], encode: { x: [0, 1], y: [2, 3] },
      renderItem: (_p: any, api: any) => {
        const a = api.coord([api.value(0), api.value(3)]);
        const b = api.coord([api.value(1), api.value(2)]);
        const stops = rdBu.map((color, i) => ({ offset: i / (rdBu.length - 1), color }));
        return { type: "rect", shape: { x: a[0], y: a[1], width: b[0] - a[0], height: b[1] - a[1] },
          style: { fill: new echarts.graphic.LinearGradient(0, 1, 0, 0, stops), stroke: INK, lineWidth: 2 } };
      },
    });
  });

  const legendBase = {
    orient: "vertical", icon: "rect", itemWidth: 71, itemHeight: 6, selectedMode: false, padding: 0,
    textStyle: { fontFamily: FONT, fontSize: 42, fontWeight: 300, color: INK, lineHeight: 42, padding: [0, 0, 0, 10] },
  };
  return {
    animation: false,
    backgroundColor: "transparent",
    title: [
      { text: "VEPs (N=33)", left: 209, top: 31, padding: 0, textStyle: { fontFamily: FONT, fontSize: 43, fontWeight: 600, color: INK } },
      { text: "Modulation wave (N=33)", left: 1818, top: 38, padding: 0, textStyle: { fontFamily: FONT, fontSize: 45, fontWeight: 600, color: INK } },
      ...maps.map((m) => ({ text: m.title, left: m.titleX, top: 1153, padding: 0, textStyle: { fontFamily: FONT, fontSize: 37, fontWeight: 600, color: INK } })),
    ],
    legend: [
      { ...legendBase, data: ["Premodulation", "Postmodulation"], left: 894, top: 133, itemGap: 6 },
      { ...legendBase, data: ["Post - Pre"], left: 2629, top: 133 },
    ],
    grid: grids,
    xAxis: xAxes,
    yAxis: yAxes,
    series,
  };
}

export default function App() {
  const heatRef = useRef<HTMLDivElement>(null);
  const topRef = useRef<HTMLDivElement>(null);
  useEffect(() => {
    document.body.style.margin = "0";
    document.body.style.background = "#fff";
    const heat = echarts.init(heatRef.current!, undefined, { renderer: "svg" });
    const top = echarts.init(topRef.current!, undefined, { renderer: "svg" });
    heat.setOption(buildHeatOption() as any);
    top.setOption(buildOption() as any);
    return () => {
      heat.dispose();
      top.dispose();
    };
  }, []);
  const clip = maps
    .map((m) => `M${m.cx - HEAD_R} ${HEAD_CY}a${HEAD_R} ${HEAD_R} 0 1 0 ${2 * HEAD_R} 0a${HEAD_R} ${HEAD_R} 0 1 0 ${-2 * HEAD_R} 0Z`)
    .join("");
  const layer: React.CSSProperties = { position: "absolute", left: 0, top: 0, width: 2920, height: 1860 };
  return (
    <div style={{ position: "fixed", left: 0, top: 0, width: 2920, height: 1860, overflow: "hidden", background: "#fff" }}>
      <div style={{ ...layer, clipPath: `path('${clip}')` }}>
        <div ref={heatRef} style={{ ...layer, filter: "blur(9px)" }} />
      </div>
      <div ref={topRef} style={{ ...layer, width: 2960, height: 1900 }} />
    </div>
  );
}
